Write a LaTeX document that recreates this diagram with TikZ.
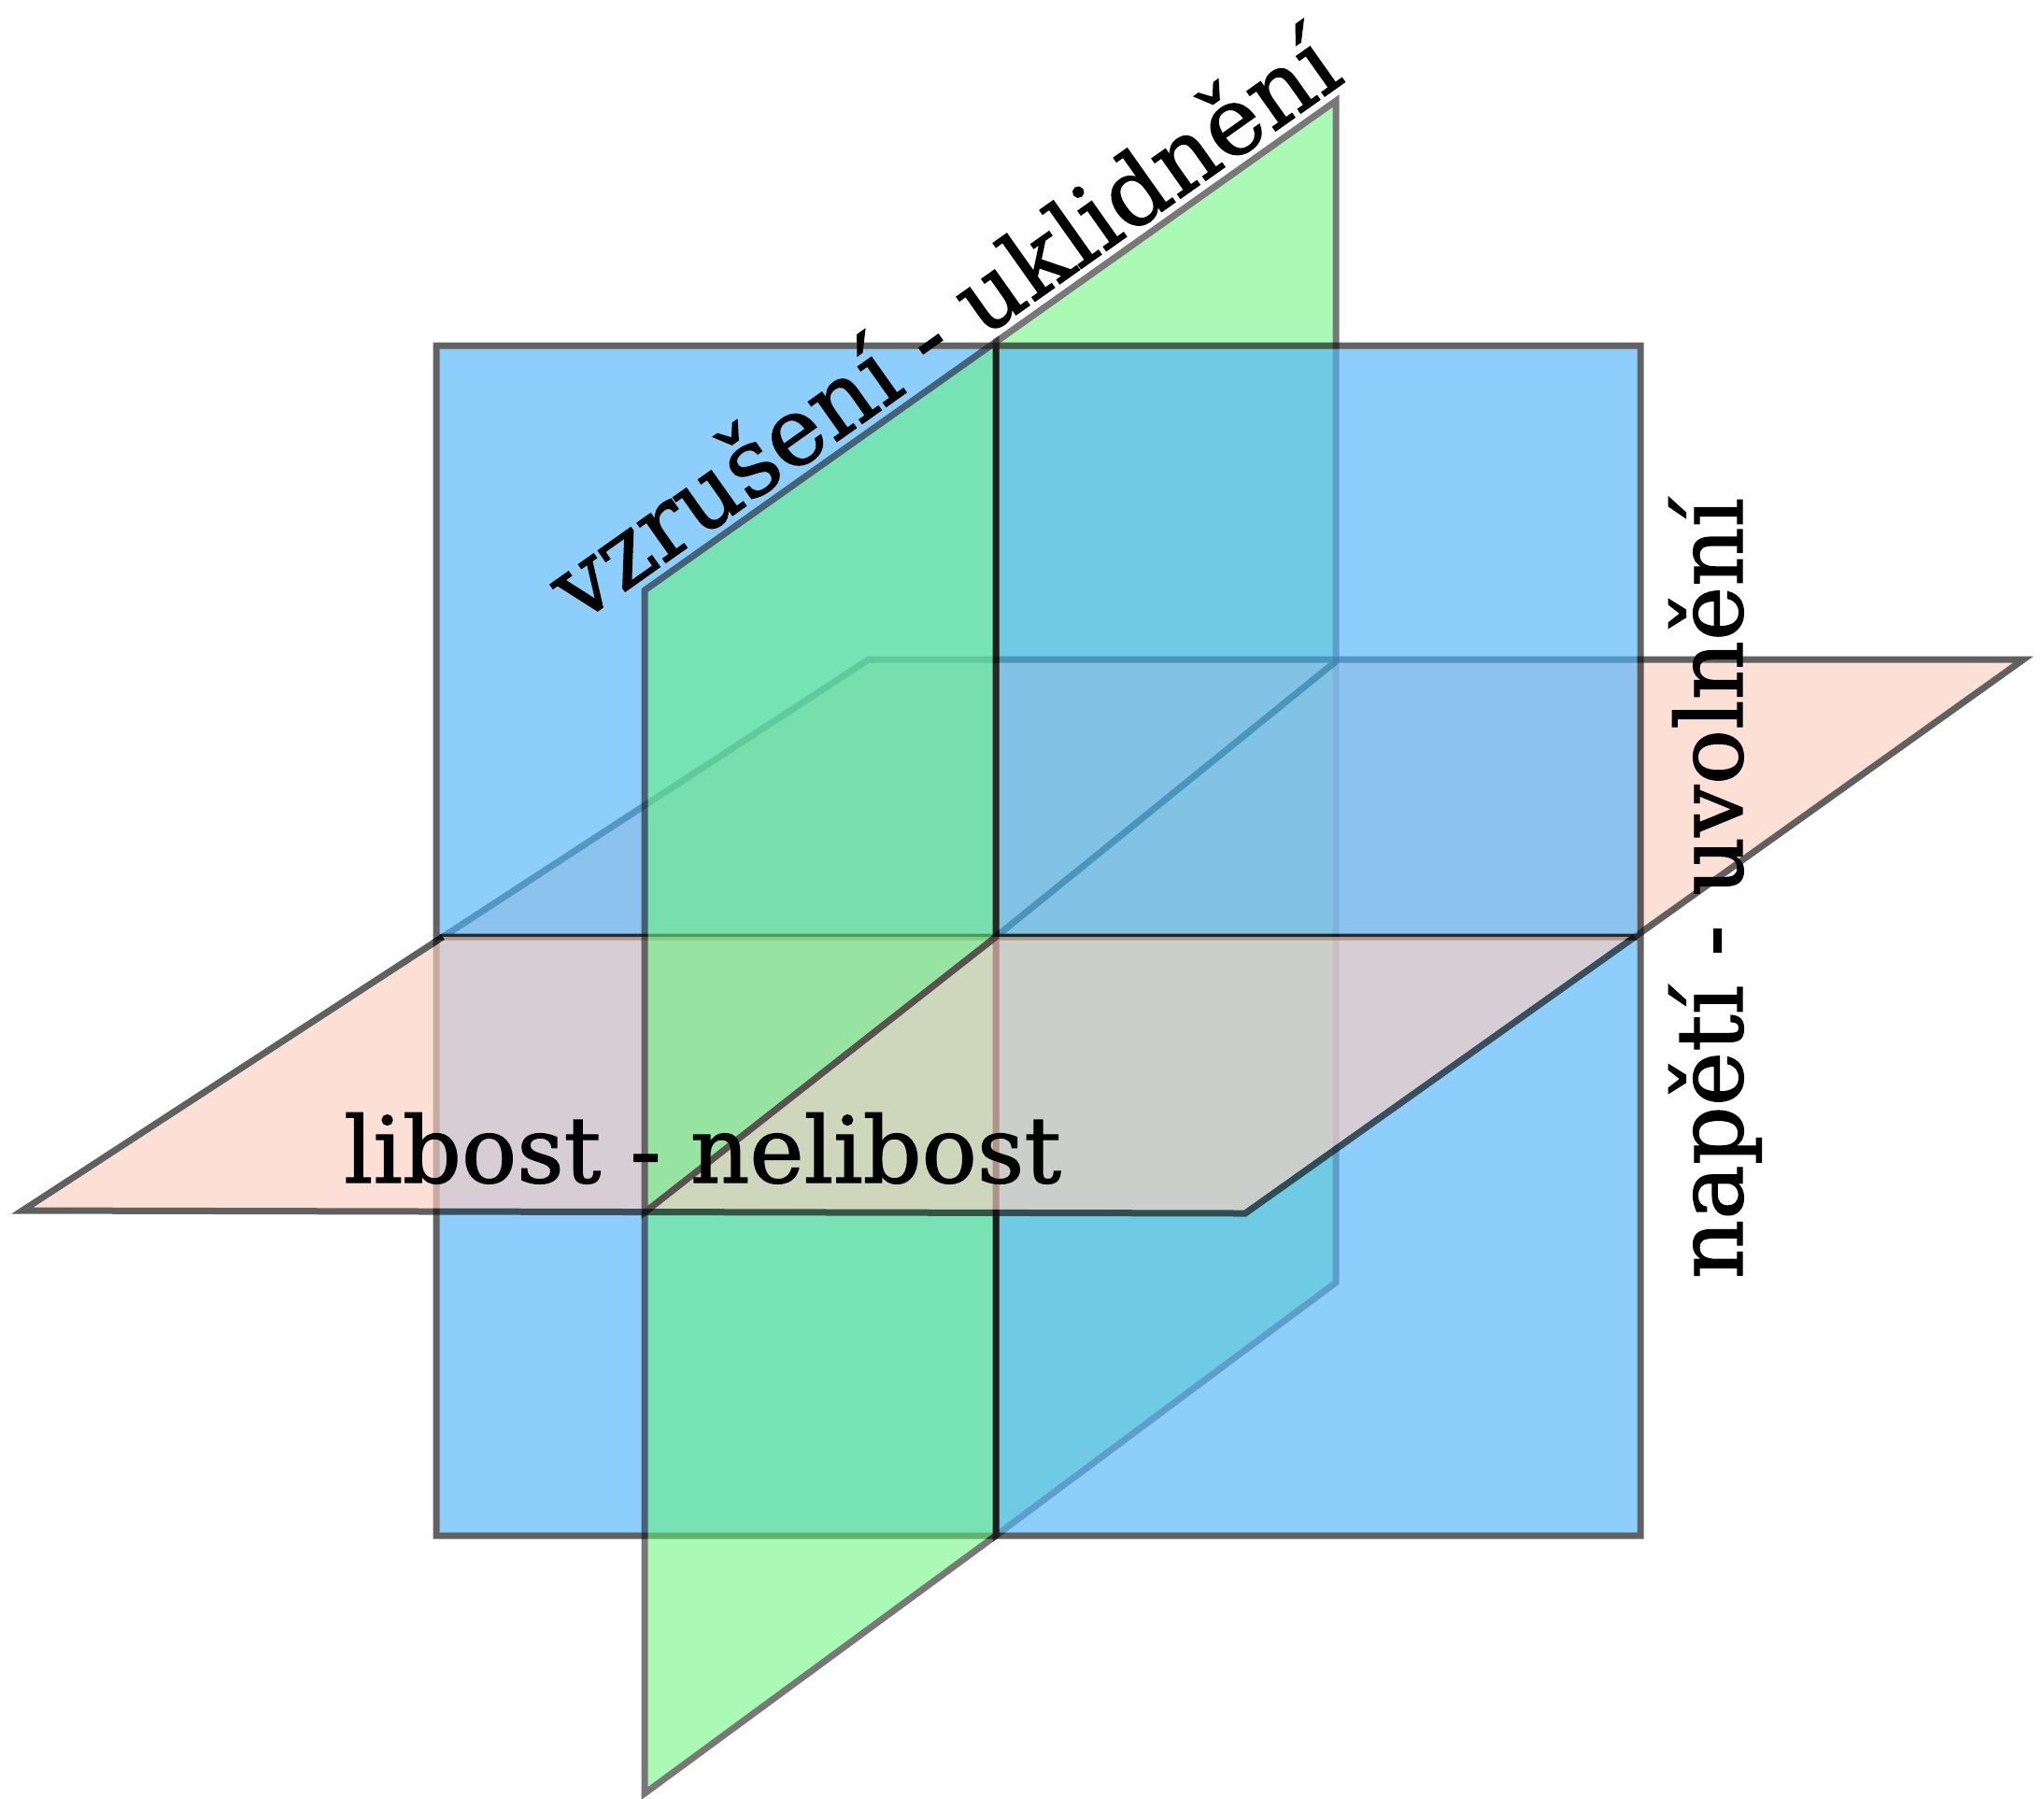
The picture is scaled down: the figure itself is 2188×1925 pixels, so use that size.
\documentclass[tikz,border=0pt]{standalone}
\usepackage{fontspec}
\setmainfont{DejaVu Serif}
\newfontfamily\lblfont{DejaVu Serif}[FakeBold=1.3]
\definecolor{bluefill}{RGB}{80,180,252}
\definecolor{greenfill}{RGB}{103,244,123}
\definecolor{orangefill}{RGB}{252,208,191}
\definecolor{edgecol}{RGB}{14,14,14}
\begin{document}
\begin{tikzpicture}[x=0.1mm,y=-0.1mm,
  planeedge/.style={draw=edgecol, line width=0.7mm, line join=miter},
  lbl/.style={font=\lblfont\fontsize{28}{30}\selectfont, inner sep=0pt, text=black}]
\useasboundingbox (0,0) rectangle (2188,1925);
% key points
\coordinate (C) at (1066,1003);
\coordinate (BTL) at (467,370);
\coordinate (BBR) at (1756,1644);
\coordinate (G1) at (690,632);
\coordinate (Gt) at (1066,366);
\coordinate (G2) at (1430,108);
\coordinate (G3) at (1430,1373);
\coordinate (Gb) at (1066,1644);
\coordinate (G4) at (690,1920);
\coordinate (Gl) at (690,1298);
\coordinate (Gr) at (1430,708);
\coordinate (O1) at (24,1296);
\coordinate (Ol) at (474,1003);
\coordinate (O2) at (930,706);
\coordinate (O3) at (2166,706);
\coordinate (Or) at (1750,1003);
\coordinate (O4) at (1333,1299);
\coordinate (BL) at (467,1003);
\coordinate (BR) at (1756,1003);
\coordinate (BT) at (1066,370);
% 1. green back half
\begin{scope}[transparency group, opacity=0.56]
  \filldraw[planeedge, fill=greenfill] (Gt) -- (G2) -- (G3) -- (Gb) -- cycle;
\end{scope}
% 2. orange back half
\begin{scope}[transparency group, opacity=0.66]
  \filldraw[planeedge, fill=orangefill] (Ol) -- (O2) -- (O3) -- (Or) -- cycle;
  \draw[planeedge] (C) -- (Gr);
\end{scope}
% 3. blue square
\begin{scope}[transparency group, opacity=0.65]
  \filldraw[planeedge, fill=bluefill] (BTL) rectangle (BBR);
  \draw[planeedge] (BL) -- (BR);
  \draw[planeedge] (BT) -- (Gb);
\end{scope}
% 4. green front lower
\begin{scope}[transparency group, opacity=0.56]
  \filldraw[planeedge, fill=greenfill] (Gl) -- (C) -- (Gb) -- (G4) -- cycle;
\end{scope}
% 5. orange front half
\begin{scope}[transparency group, opacity=0.66]
  \fill[orangefill] (O1) -- (Ol) -- (Or) -- (O4) -- cycle;
  \draw[planeedge] (Ol) -- (O1) -- (O4) -- (Or);
\end{scope}
% 6. green front upper
\begin{scope}[transparency group, opacity=0.56]
  \filldraw[planeedge, fill=greenfill] (G1) -- (Gt) -- (C) -- (Gl) -- cycle;
\end{scope}
% labels
\node[lbl, font=\lblfont\fontsize{28.7}{30}\selectfont, anchor=base east, rotate=35.3] (t1) at (1442,86) {vzrušení - uklidnění};
\node[lbl, anchor=base, rotate=90] (t2) at (1865,951) {napětí - uvolnění};
\node[lbl, anchor=base] (t3) at (752,1266) {libost - nelibost};
\end{tikzpicture}
\end{document}
